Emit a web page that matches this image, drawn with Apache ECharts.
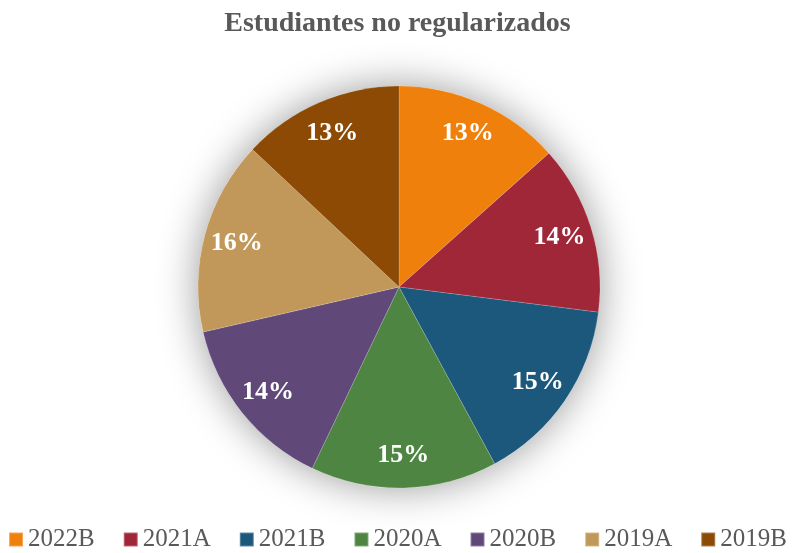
<!DOCTYPE html>
<html>
<head>
<meta charset="utf-8">
<script src="https://cdn.jsdelivr.net/npm/echarts@6/dist/echarts.min.js"></script>
<style>
  html, body { margin: 0; padding: 0; background: #fff; }
  #chart { width: 795px; height: 553px; }
</style>
</head>
<body>
<div id="chart"></div>
<script>
const categories = ['2022B', '2021A', '2021B', '2020A', '2020B', '2019A', '2019B']
const shares = [13.4, 13.6, 15.1, 15.0, 14.3, 15.6, 13.0]
const colors = ['#F0800C', '#A02738', '#1B587C', '#4E8542', '#604878', '#C19859', '#8C4A04']

const font = '"Liberation Serif", "Times New Roman", serif'
const center = [399, 287]
const pieData = categories.map((name, i) => ({ name, value: shares[i] }))

const chart = echarts.init(document.getElementById('chart'))
chart.setOption({
  animation: false,
  color: colors,
  title: {
    text: 'Estudiantes no regularizados',
    left: 'center',
    top: 5,
    textStyle: { fontFamily: font, fontSize: 28, fontWeight: 'bold', color: '#595959' },
  },
  legend: {
    data: categories,
    top: 527,
    left: 'center',
    padding: 0,
    width: 795,
    icon: 'rect',
    itemWidth: 14,
    itemHeight: 14,
    itemGap: 28,
    textStyle: { fontFamily: font, fontSize: 25, color: '#595959' },
  },
  series: [
    {
      // 阴影底盘
      type: 'pie',
      center,
      radius: 201,
      silent: true,
      label: { show: false },
      itemStyle: { color: '#fff', shadowBlur: 40, shadowColor: 'rgba(0,0,0,0.4)' },
      data: [{ value: 1, name: '' }],
    },
    {
      type: 'pie',
      center,
      radius: 201,
      startAngle: 90,
      clockwise: true,
      label: { show: false },
      labelLine: { show: false },
      itemStyle: { borderColor: 'rgba(255,255,255,0.3)', borderWidth: 0.5 },
      emphasis: { disabled: true },
      data: pieData,
    },
    {
      // 标签层
      type: 'pie',
      center,
      radius: [130, 200],
      startAngle: 90,
      silent: true,
      itemStyle: { color: 'rgba(0,0,0,0)' },
      label: {
        show: true,
        position: 'inside',
        formatter: (p) => Math.round(p.percent) + '%',
        fontFamily: font,
        fontSize: 26,
        fontWeight: 'bold',
        color: '#fff',
      },
      labelLine: { show: false },
      emphasis: { disabled: true },
      data: pieData,
    },
  ],
})
</script>
</body>
</html>
